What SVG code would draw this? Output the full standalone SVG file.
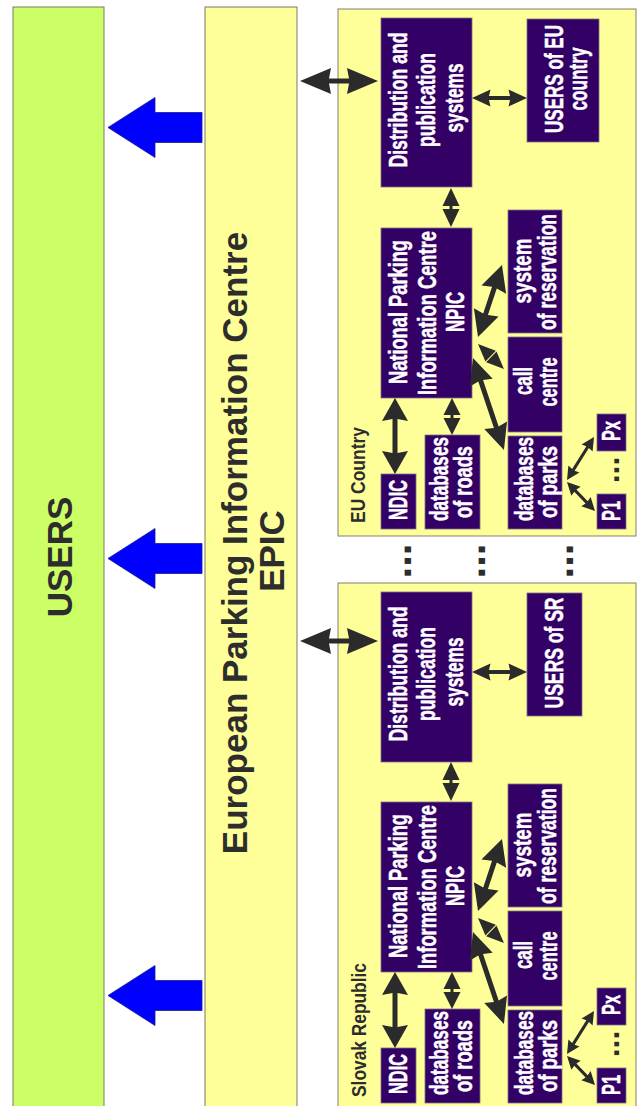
<svg xmlns="http://www.w3.org/2000/svg" width="637" height="1106" viewBox="0 0 637 1106">
<style>
.bar{stroke:#7a7a6a;stroke-width:1}
.cbox{fill:#ffff99;stroke:#808070;stroke-width:1}
.node{fill:#330066;stroke:#7a6f8a;stroke-width:0.8}
.big{font-family:"Liberation Sans",Arial,sans-serif;font-weight:bold;font-size:35px;fill:#2d2d2d;text-anchor:middle}
.lbl{font-family:"Liberation Sans Narrow","Liberation Sans",Arial,sans-serif;font-weight:bold;font-size:20px;fill:#2d2d2d;text-anchor:middle}
.t{font-family:"Liberation Sans Narrow","Liberation Sans",Arial,sans-serif;font-weight:bold;font-size:25px;fill:#ffffff;stroke:#ffffff;stroke-width:0.5;text-anchor:middle}
.dots{font-family:"Liberation Sans",Arial,sans-serif;font-weight:bold;font-size:42px;fill:#2d2d2d;text-anchor:middle}
.pdots{font-family:"Liberation Sans",Arial,sans-serif;font-weight:bold;font-size:32px;fill:#2d2d2d;text-anchor:middle}
.blue{fill:#0000ff;stroke:#1a1a8a;stroke-width:0.8}
.da{fill:#2b2b2b}
</style>
<defs>
<path id="aEpic" d="M0,0 L31,-13 L29,-2.5 L49,-2.5 L47,-13 L78,0 L47,13 L49,2.5 L29,2.5 L31,13 Z"/>
<path id="aUsers" d="M0,0 L18.5,-8.5 L17,-2 L38,-2 L36.5,-8.5 L55,0 L36.5,8.5 L38,2 L17,2 L18.5,8.5 Z"/>
<path id="aDist" d="M0,0 L18,-8.5 L18,-1.5 L21,-1.5 L21,-8.5 L39,0 L21,8.5 L21,1.5 L18,1.5 L18,8.5 Z"/>
<path id="aNdic" d="M0,0 L23,-13 L21,-2.5 L55,-2.5 L53,-13 L76,0 L53,13 L55,2.5 L21,2.5 L23,13 Z"/>
<path id="aRoads" d="M0,0 L17,-8.5 L17,-1.5 L20,-1.5 L20,-8.5 L37,0 L20,8.5 L20,1.5 L17,1.5 L17,8.5 Z"/>
<path id="aRes" d="M0,0 L26,-13 L24,-2.5 L52,-2.5 L50,-13 L76,0 L50,13 L52,2.5 L24,2.5 L26,13 Z"/>
<path id="aCall" d="M0,0 L17.5,-7.5 L17.5,7.5 Z M36,0 L18.5,-7.5 L18.5,7.5 Z"/>
<path id="aParks" d="M0,0 L26,-12 L24,-2.5 L73,-2.5 L71,-12 L97,0 L71,12 L73,2.5 L24,2.5 L26,12 Z"/>
<path id="aPx" d="M0,0 L13,-6.5 L12,-1.5 L38.8,-1.5 L37.8,-6.5 L50.8,0 L37.8,6.5 L38.8,1.5 L12,1.5 L13,6.5 Z"/>
<path id="aP1" d="M0,0 L13,-6.5 L12,-1.5 L28.3,-1.5 L27.3,-6.5 L40.3,0 L27.3,6.5 L28.3,1.5 L12,1.5 L13,6.5 Z"/>
</defs>

<g id="users">
<rect class="bar" x="13" y="7" width="91" height="1100" fill="#ccff66"/>
<text class="big" transform="translate(72,557) rotate(-90)">USERS</text>
</g>

<g id="epic">
<rect class="bar" x="205" y="7" width="92" height="1100" fill="#ffff99"/>
<text class="big" transform="translate(247,543) rotate(-90)">European Parking Information Centre</text>
<text class="big" transform="translate(284,551) rotate(-90)">EPIC</text>
</g>

<g id="eu-country">
<rect class="cbox" x="338" y="9" width="298" height="527"/>
<text class="lbl" transform="translate(365,475) rotate(-90)" textLength="96" lengthAdjust="spacingAndGlyphs">EU Country</text>
</g>
<g id="sr-country">
<rect class="cbox" x="338" y="583" width="298" height="530"/>
<text class="lbl" transform="translate(366,1030) rotate(-90)" textLength="134" lengthAdjust="spacingAndGlyphs">Slovak Republic</text>
</g>

<!-- EU nodes -->
<g id="eu-dist"><rect class="node" x="381" y="18" width="91" height="169"/>
<text class="t" transform="translate(407,100) rotate(-90)" textLength="135" lengthAdjust="spacingAndGlyphs">Distribution and</text>
<text class="t" transform="translate(435,100) rotate(-90)" textLength="94" lengthAdjust="spacingAndGlyphs">publication</text>
<text class="t" transform="translate(463,98) rotate(-90)" textLength="69" lengthAdjust="spacingAndGlyphs">systems</text></g>
<g id="eu-users"><rect class="node" x="527" y="19" width="72" height="123"/>
<text class="t" transform="translate(563,79) rotate(-90)" textLength="108" lengthAdjust="spacingAndGlyphs">USERS of EU</text>
<text class="t" transform="translate(587,79) rotate(-90)" textLength="63" lengthAdjust="spacingAndGlyphs">country</text></g>
<g id="eu-npic"><rect class="node" x="381" y="228" width="91" height="170"/>
<text class="t" transform="translate(407,312) rotate(-90)" textLength="144" lengthAdjust="spacingAndGlyphs">National Parking</text>
<text class="t" transform="translate(436,313) rotate(-90)" textLength="164" lengthAdjust="spacingAndGlyphs">Information Centre</text>
<text class="t" transform="translate(464,312) rotate(-90)" textLength="40" lengthAdjust="spacingAndGlyphs">NPIC</text></g>
<g id="eu-res"><rect class="node" x="508" y="210" width="54" height="123"/>
<text class="t" transform="translate(531,271) rotate(-90)" textLength="65" lengthAdjust="spacingAndGlyphs">system</text>
<text class="t" transform="translate(556,272) rotate(-90)" textLength="116" lengthAdjust="spacingAndGlyphs">of reservation</text></g>
<g id="eu-call"><rect class="node" x="508" y="337" width="54" height="95"/>
<text class="t" transform="translate(532,381) rotate(-90)" textLength="28" lengthAdjust="spacingAndGlyphs">call</text>
<text class="t" transform="translate(557,382) rotate(-90)" textLength="49" lengthAdjust="spacingAndGlyphs">centre</text></g>
<g id="eu-parks"><rect class="node" x="508" y="436" width="54" height="93"/>
<text class="t" transform="translate(533,479) rotate(-90)" textLength="84" lengthAdjust="spacingAndGlyphs">databases</text>
<text class="t" transform="translate(557,482) rotate(-90)" textLength="72" lengthAdjust="spacingAndGlyphs">of parks</text></g>
<g id="eu-roads"><rect class="node" x="425" y="435" width="55" height="94"/>
<text class="t" transform="translate(448,479) rotate(-90)" textLength="84" lengthAdjust="spacingAndGlyphs">databases</text>
<text class="t" transform="translate(472,482) rotate(-90)" textLength="72" lengthAdjust="spacingAndGlyphs">of roads</text></g>
<g id="eu-ndic"><rect class="node" x="381" y="474" width="35" height="55"/>
<text class="t" transform="translate(407,500) rotate(-90)" textLength="40" lengthAdjust="spacingAndGlyphs">NDIC</text></g>
<g id="eu-px"><rect class="node" x="597" y="414" width="29" height="37"/>
<text class="t" transform="translate(620,431) rotate(-90)" textLength="20" lengthAdjust="spacingAndGlyphs">Px</text></g>
<g id="eu-p1"><rect class="node" x="597" y="494" width="29" height="35"/>
<text class="t" transform="translate(620,511) rotate(-90)" textLength="20" lengthAdjust="spacingAndGlyphs">P1</text></g>
<text class="pdots" transform="translate(619,470) rotate(-90)">...</text>

<!-- SR nodes -->
<g id="sr-dist"><rect class="node" x="381" y="592" width="91" height="170"/>
<text class="t" transform="translate(407,674) rotate(-90)" textLength="135" lengthAdjust="spacingAndGlyphs">Distribution and</text>
<text class="t" transform="translate(435,674) rotate(-90)" textLength="94" lengthAdjust="spacingAndGlyphs">publication</text>
<text class="t" transform="translate(463,672) rotate(-90)" textLength="69" lengthAdjust="spacingAndGlyphs">systems</text></g>
<g id="sr-users"><rect class="node" x="527" y="593" width="55" height="123"/>
<text class="t" transform="translate(563,653) rotate(-90)" textLength="111" lengthAdjust="spacingAndGlyphs">USERS of SR</text></g>
<g id="sr-npic"><rect class="node" x="381" y="802" width="91" height="170"/>
<text class="t" transform="translate(407,886) rotate(-90)" textLength="144" lengthAdjust="spacingAndGlyphs">National Parking</text>
<text class="t" transform="translate(436,887) rotate(-90)" textLength="164" lengthAdjust="spacingAndGlyphs">Information Centre</text>
<text class="t" transform="translate(464,886) rotate(-90)" textLength="40" lengthAdjust="spacingAndGlyphs">NPIC</text></g>
<g id="sr-res"><rect class="node" x="508" y="784" width="54" height="123"/>
<text class="t" transform="translate(531,845) rotate(-90)" textLength="65" lengthAdjust="spacingAndGlyphs">system</text>
<text class="t" transform="translate(556,846) rotate(-90)" textLength="116" lengthAdjust="spacingAndGlyphs">of reservation</text></g>
<g id="sr-call"><rect class="node" x="508" y="911" width="54" height="95"/>
<text class="t" transform="translate(532,955) rotate(-90)" textLength="28" lengthAdjust="spacingAndGlyphs">call</text>
<text class="t" transform="translate(557,956) rotate(-90)" textLength="49" lengthAdjust="spacingAndGlyphs">centre</text></g>
<g id="sr-parks"><rect class="node" x="508" y="1010" width="54" height="93"/>
<text class="t" transform="translate(533,1053) rotate(-90)" textLength="84" lengthAdjust="spacingAndGlyphs">databases</text>
<text class="t" transform="translate(557,1056) rotate(-90)" textLength="72" lengthAdjust="spacingAndGlyphs">of parks</text></g>
<g id="sr-roads"><rect class="node" x="425" y="1009" width="55" height="94"/>
<text class="t" transform="translate(448,1053) rotate(-90)" textLength="84" lengthAdjust="spacingAndGlyphs">databases</text>
<text class="t" transform="translate(472,1056) rotate(-90)" textLength="72" lengthAdjust="spacingAndGlyphs">of roads</text></g>
<g id="sr-ndic"><rect class="node" x="381" y="1048" width="35" height="55"/>
<text class="t" transform="translate(407,1074) rotate(-90)" textLength="40" lengthAdjust="spacingAndGlyphs">NDIC</text></g>
<g id="sr-px"><rect class="node" x="597" y="988" width="29" height="37"/>
<text class="t" transform="translate(620,1005) rotate(-90)" textLength="20" lengthAdjust="spacingAndGlyphs">Px</text></g>
<g id="sr-p1"><rect class="node" x="597" y="1068" width="29" height="35"/>
<text class="t" transform="translate(620,1085) rotate(-90)" textLength="20" lengthAdjust="spacingAndGlyphs">P1</text></g>
<text class="pdots" transform="translate(619,1044) rotate(-90)">...</text>

<!-- gap dots -->
<text class="dots" transform="translate(411,561) rotate(-90)">...</text>
<text class="dots" transform="translate(485,561) rotate(-90)">...</text>
<text class="dots" transform="translate(573,561) rotate(-90)">...</text>

<g id="connectors">
<polygon class="blue" points="108,127.5 155,97.5 155,112.5 202,112.5 202,142.5 155,142.5 155,157.5"/>
<polygon class="blue" points="108,558.5 155,528.5 155,543.5 202,543.5 202,573.5 155,573.5 155,588.5"/>
<polygon class="blue" points="108,995.5 155,965.5 155,980.5 202,980.5 202,1010.5 155,1010.5 155,1025.5"/>
<g class="da">
<use href="#aEpic" transform="translate(300,81)"/>
<use href="#aEpic" transform="translate(300,641)"/>
<use href="#aUsers" transform="translate(472,98)"/>
<use href="#aUsers" transform="translate(472,672)"/>
<use href="#aDist" transform="translate(451,188) rotate(90)"/>
<use href="#aDist" transform="translate(451,762) rotate(90)"/>
<use href="#aNdic" transform="translate(395,398) rotate(90)"/>
<use href="#aNdic" transform="translate(395,972) rotate(90)"/>
<use href="#aRoads" transform="translate(452,398) rotate(90)"/>
<use href="#aRoads" transform="translate(452,972) rotate(90)"/>
<use href="#aRes" transform="translate(478,337) rotate(-71.6)"/>
<use href="#aRes" transform="translate(478,911) rotate(-71.6)"/>
<use href="#aCall" transform="translate(478,344) rotate(43.9)"/>
<use href="#aCall" transform="translate(478,918) rotate(43.9)"/>
<use href="#aParks" transform="translate(473,358) rotate(71.4)"/>
<use href="#aParks" transform="translate(473,932) rotate(71.4)"/>
<use href="#aPx" transform="translate(567,480) rotate(-57.9)"/>
<use href="#aPx" transform="translate(567,1054) rotate(-57.9)"/>
<use href="#aP1" transform="translate(567,482) rotate(46)"/>
<use href="#aP1" transform="translate(567,1056) rotate(46)"/>
</g>
</g>
</svg>
